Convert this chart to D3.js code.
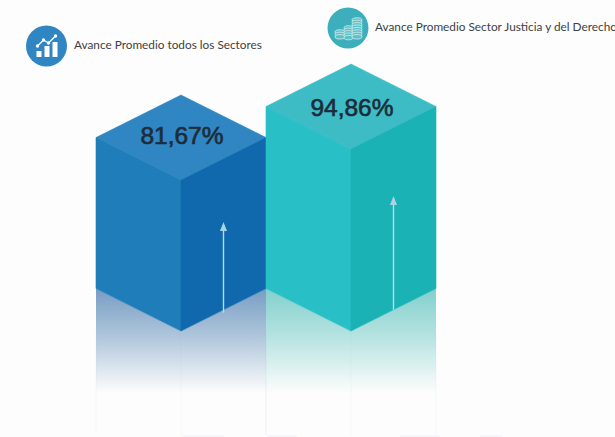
<!DOCTYPE html>
<html><head><meta charset="utf-8">
<script src="https://cdn.jsdelivr.net/npm/d3@7/dist/d3.min.js"></script>
<style>html,body{margin:0;padding:0;background:#fdfdfd}svg{display:block}</style></head>
<body><svg id="c" width="615" height="437"></svg>
<script>
const categories = ["Avance Promedio todos los Sectores", "Avance Promedio Sector Justicia y del Derecho"];
const values = [81.67, 94.86];
const valueLabels = ["81,67%", "94,86%"];
const topColors = ["#2f86c2", "#3dbcc6"];
const leftColors = ["#1f7db9", "#28bfc6"];
const rightColors = ["#1069ad", "#1bb2b6"];
const reflectColors = ["#5f8cb9", "#6cc8c4"];

const W = 615, H = 437;
const svg = d3.select("#c");
const x = d3.scaleBand().domain(categories).range([96, 436]).padding(0);
const y = d3.scaleLinear().domain([0, 100]).range([372, 137]);
const baseFront = 331, rise = 42.5, reflectEnd = 393, faintEnd = 435;
const hw = () => x.bandwidth() / 2;

svg.append("rect").attr("width", W).attr("height", H).attr("fill", "#fdfdfd");
const defs = svg.append("defs");
categories.forEach((c, i) => {
  const g = defs.append("linearGradient").attr("id", "r" + i)
    .attr("gradientUnits", "userSpaceOnUse").attr("x1", 0).attr("x2", 0).attr("y1", baseFront - rise).attr("y2", reflectEnd);
  g.append("stop").attr("offset", 0).attr("stop-color", reflectColors[i]).attr("stop-opacity", 0.85);
  g.append("stop").attr("offset", 0.45).attr("stop-color", reflectColors[i]).attr("stop-opacity", 0.5);
  g.append("stop").attr("offset", 1).attr("stop-color", reflectColors[i]).attr("stop-opacity", 0);
});

const boxes = svg.selectAll("g.box").data(categories).join("g").attr("class", "box");
boxes.each(function (c, i) {
  const g = d3.select(this);
  const l = x(c), w = hw(), m = l + w, r = l + 2 * w, t = y(values[i]);
  g.append("path").attr("d", `M${l},${baseFront - rise}L${m},${baseFront}L${r},${baseFront - rise}L${r},${reflectEnd}L${l},${reflectEnd}Z`).attr("fill", `url(#r${i})`);
  g.append("path").attr("d", `M${l},${baseFront}V${faintEnd}M${m},${baseFront}V${faintEnd}M${r},${baseFront}V${faintEnd}`)
    .attr("stroke", "#b9c4cc").attr("stroke-opacity", 0.1).attr("fill", "none");
  const face = (d, col) => g.append("path").attr("d", d).attr("fill", col).attr("stroke", col).attr("stroke-width", 0.6);
  face(`M${l},${t - rise}L${m},${t - 2 * rise}L${r},${t - rise}L${m},${t}Z`, topColors[i]);
  face(`M${l},${t - rise}L${m},${t}L${m},${baseFront}L${l},${baseFront - rise}Z`, leftColors[i]);
  face(`M${r},${t - rise}L${m},${t}L${m},${baseFront}L${r},${baseFront - rise}Z`, rightColors[i]);
  const ax = m + w / 2, tipY = t + 42 + (i ? 5 : 0), endY = baseFront - rise / 2 + (i ? 0 : 3);
  g.append("line").attr("x1", ax).attr("x2", ax).attr("y1", tipY + 6).attr("y2", endY).attr("stroke", "#b8dcec").attr("stroke-width", 1.4);
  g.append("path").attr("d", `M${ax},${tipY}L${ax + 3.5},${tipY + 9}L${ax - 3.5},${tipY + 9}Z`).attr("fill", "#a9d3e6");
  g.append("text").attr("x", m + 1).attr("y", t - rise + (i ? 9.8 : 6.8)).attr("text-anchor", "middle")
    .attr("font-family", "Liberation Sans, Arial, sans-serif").attr("font-size", 24.5)
    .attr("fill", "#1d2c39").attr("stroke", "#1d2c39").attr("stroke-width", 0.65).text(valueLabels[i]);
});

const legendX = [46.5, 348], legendY = [46, 28], legendFill = ["#2f86c2", "#3dafbc"], legendTextX = [74, 375], legendTextY = [49, 31];
categories.forEach((c, i) => {
  const g = svg.append("g").attr("transform", `translate(${legendX[i]},${legendY[i]})`);
  g.append("circle").attr("r", 20.5).attr("fill", legendFill[i]);
  if (i === 0) {
    g.selectAll("rect").data([[-10, 5, 5, 6], [-2, 0, 5, 11], [6, -4, 5, 15]]).join("rect")
      .attr("x", d => d[0]).attr("y", d => d[1]).attr("width", d => d[2]).attr("height", d => d[3]).attr("fill", "#fff");
    g.append("path").attr("d", "M-9,0L-3,-6L2,-3L9,-10").attr("fill", "none").attr("stroke", "#fff").attr("stroke-width", 1.3);
    g.selectAll("circle.p").data([[-9, 0], [-3, -6], [2, -3], [9, -10]]).join("circle").attr("class", "p")
      .attr("cx", d => d[0]).attr("cy", d => d[1]).attr("r", 1.7).attr("fill", "#fff");
  } else {
    [[-13, 4, 3, 10], [-4, 0, 5, 9], [4, -8, 8, 10]].forEach(([cx, top, n, w]) => {
      for (let k = 0; k < n; k++) {
        g.append("ellipse").attr("cx", cx + w / 2).attr("cy", top + k * 2.4).attr("rx", w / 2).attr("ry", 2.2)
          .attr("fill", "#5cc0c8").attr("stroke", "#d6f0f0").attr("stroke-width", 0.8);
      }
    });
  }
  svg.append("text").attr("x", legendTextX[i]).attr("y", legendTextY[i])
    .attr("font-family", "Lato, sans-serif").attr("font-size", 11.8).attr("fill", "#3c3f44").text(c);
});

svg.selectAll("rect.strip").data([[182, 42], [267, 30], [400, 40], [480, 22]]).join("rect").attr("class", "strip")
  .attr("x", d => d[0]).attr("y", 435).attr("width", d => d[1]).attr("height", 2).attr("fill", "#f6f6fb");
</script></body></html>
